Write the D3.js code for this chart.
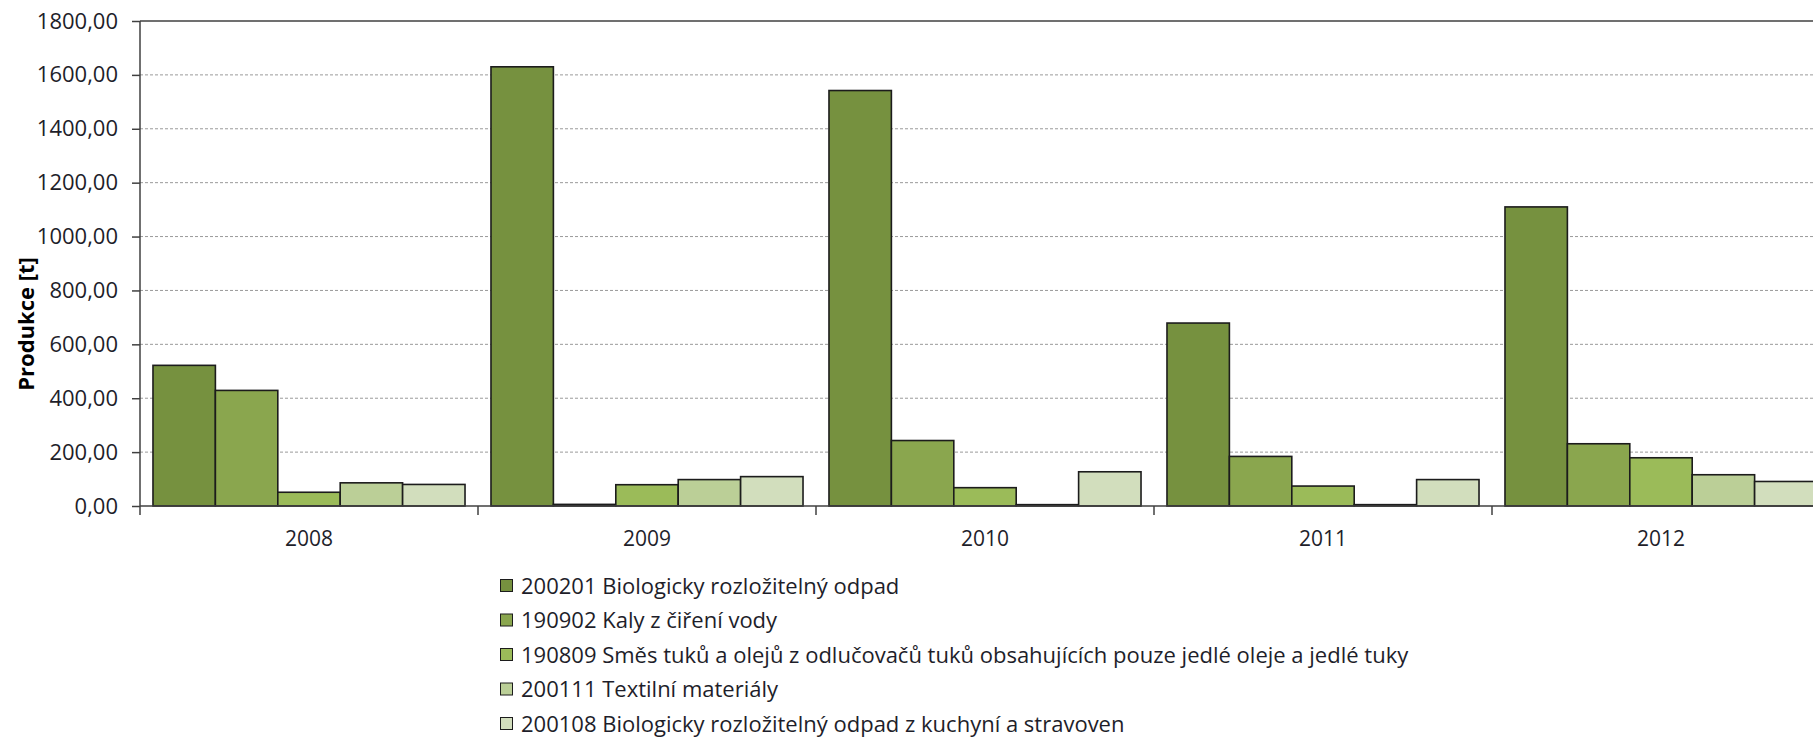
<!DOCTYPE html>
<html>
<head>
<meta charset="utf-8">
<script src="https://cdn.jsdelivr.net/npm/d3@7"></script>
<style>
  html, body { margin: 0; padding: 0; background: #fff; }
  svg { display: block; font-family: "Open Sans", sans-serif; }
</style>
</head>
<body>
<svg id="chart" width="1813" height="740"></svg>
<script>
// ---- data ----
const years = ["2008", "2009", "2010", "2011", "2012"];
const seriesNames = [
  "200201 Biologicky rozložitelný odpad",
  "190902 Kaly z čiření vody",
  "190809 Směs tuků a olejů z odlučovačů tuků obsahujících pouze jedlé oleje a jedlé tuky",
  "200111 Textilní materiály",
  "200108 Biologicky rozložitelný odpad z kuchyní a stravoven"
];
const v200201 = [522, 1630, 1542, 679, 1110];
const v190902 = [429, 6, 243, 184, 231];
const v190809 = [51, 79, 68, 74, 179];
const v200111 = [86, 98, 5, 5, 116];
const v200108 = [80, 109, 127, 98, 91];
const seriesValues = [v200201, v190902, v190809, v200111, v200108];
const colors = ["#76913F", "#8AA64E", "#9BBB59", "#BBCF97", "#D2DEBD"];
const yTickValues = [0, 200, 400, 600, 800, 1000, 1200, 1400, 1600, 1800];
const yTitle = "Produkce [t]";

// ---- layout ----
const svg = d3.select("#chart");
const mLeft = 140, mTop = 21, mBottom = 506;
const groupW = 338;
const mRight = mLeft + groupW * years.length;

const x0 = d3.scaleBand().domain(years).range([mLeft, mRight]).padding(0);
const x1 = d3.scaleBand().domain(d3.range(seriesNames.length))
  .range([0, x0.bandwidth()]).paddingInner(0).paddingOuter(0.208);
const y = d3.scaleLinear().domain([0, 1800]).range([mBottom, mTop]);

const fmt = d => d.toFixed(2).replace(".", ",");

// gridlines
svg.append("g").selectAll("line")
  .data(yTickValues.filter(v => v > 0 && v < 1800))
  .join("line")
  .attr("x1", mLeft).attr("x2", mRight)
  .attr("y1", d => y(d)).attr("y2", d => y(d))
  .attr("stroke", "#9a9a9a").attr("stroke-width", 1)
  .attr("stroke-dasharray", "3,2");

// top border line
svg.append("line")
  .attr("x1", mLeft).attr("x2", mRight)
  .attr("y1", y(1800)).attr("y2", y(1800))
  .attr("stroke", "#404040").attr("stroke-width", 1.5);

// bars
const data = [];
years.forEach((yr, i) => seriesValues.forEach((vals, s) => data.push({ yr, s, v: vals[i] })));
svg.append("g").selectAll("rect")
  .data(data)
  .join("rect")
  .attr("x", d => x0(d.yr) + x1(d.s))
  .attr("y", d => y(d.v))
  .attr("width", x1.bandwidth())
  .attr("height", d => y(0) - y(d.v))
  .attr("fill", d => colors[d.s])
  .attr("stroke", "#1c1c1c").attr("stroke-width", 1.6);

// y axis
const yAxis = d3.axisLeft(y).tickValues(yTickValues).tickFormat(fmt)
  .tickSize(8).tickSizeOuter(0).tickPadding(14);
const gy = svg.append("g").attr("transform", `translate(${mLeft},0)`).call(yAxis);
gy.select(".domain").attr("stroke", "#404040").attr("stroke-width", 1.5)
  .attr("d", `M0,${mTop}V${mBottom + 9}`);
gy.selectAll(".tick line").attr("stroke", "#404040").attr("stroke-width", 1.5);
gy.selectAll(".tick text").attr("font-size", 22).attr("fill", "#1e1e2a")
  .attr("font-family", "Open Sans, sans-serif");

// x axis baseline
svg.append("line")
  .attr("x1", mLeft).attr("x2", mRight)
  .attr("y1", mBottom).attr("y2", mBottom)
  .attr("stroke", "#404040").attr("stroke-width", 1.5);
// x ticks at category boundaries
svg.append("g").selectAll("line")
  .data(years.slice(1).concat(["end"]))
  .join("line")
  .attr("x1", d => d === "end" ? mRight : x0(d))
  .attr("x2", d => d === "end" ? mRight : x0(d))
  .attr("y1", mBottom).attr("y2", mBottom + 9)
  .attr("stroke", "#404040").attr("stroke-width", 1.5);
// x labels
const xAxis = d3.axisBottom(x0).tickSize(0).tickPadding(0);
const gx = svg.append("g").attr("transform", `translate(0,${mBottom})`).call(xAxis);
gx.select(".domain").remove();
gx.selectAll(".tick text").attr("font-size", 21).attr("fill", "#1e1e2a")
  .attr("y", 40).attr("dy", 0)
  .attr("font-family", "Open Sans, sans-serif");

// y title
svg.append("text")
  .attr("transform", "translate(34,324) rotate(-90)")
  .attr("text-anchor", "middle")
  .attr("font-size", 22).attr("font-weight", "bold").attr("fill", "#000")
  .text(yTitle);

// legend
const lg = svg.append("g");
const rowY0 = 586, rowStep = 34.5;
const items = lg.selectAll("g").data(seriesNames).join("g")
  .attr("transform", (d, i) => `translate(500,${rowY0 + i * rowStep})`);
items.append("rect")
  .attr("x", 0.5).attr("y", -6.5).attr("width", 12).attr("height", 12)
  .attr("fill", (d, i) => colors[i]).attr("stroke", "#1c1c1c").attr("stroke-width", 1);
items.append("text")
  .attr("x", 21).attr("y", 0).attr("dy", "0.35em")
  .attr("font-size", 22).attr("fill", "#1e1e2a")
  .text(d => d);
</script>
</body>
</html>
